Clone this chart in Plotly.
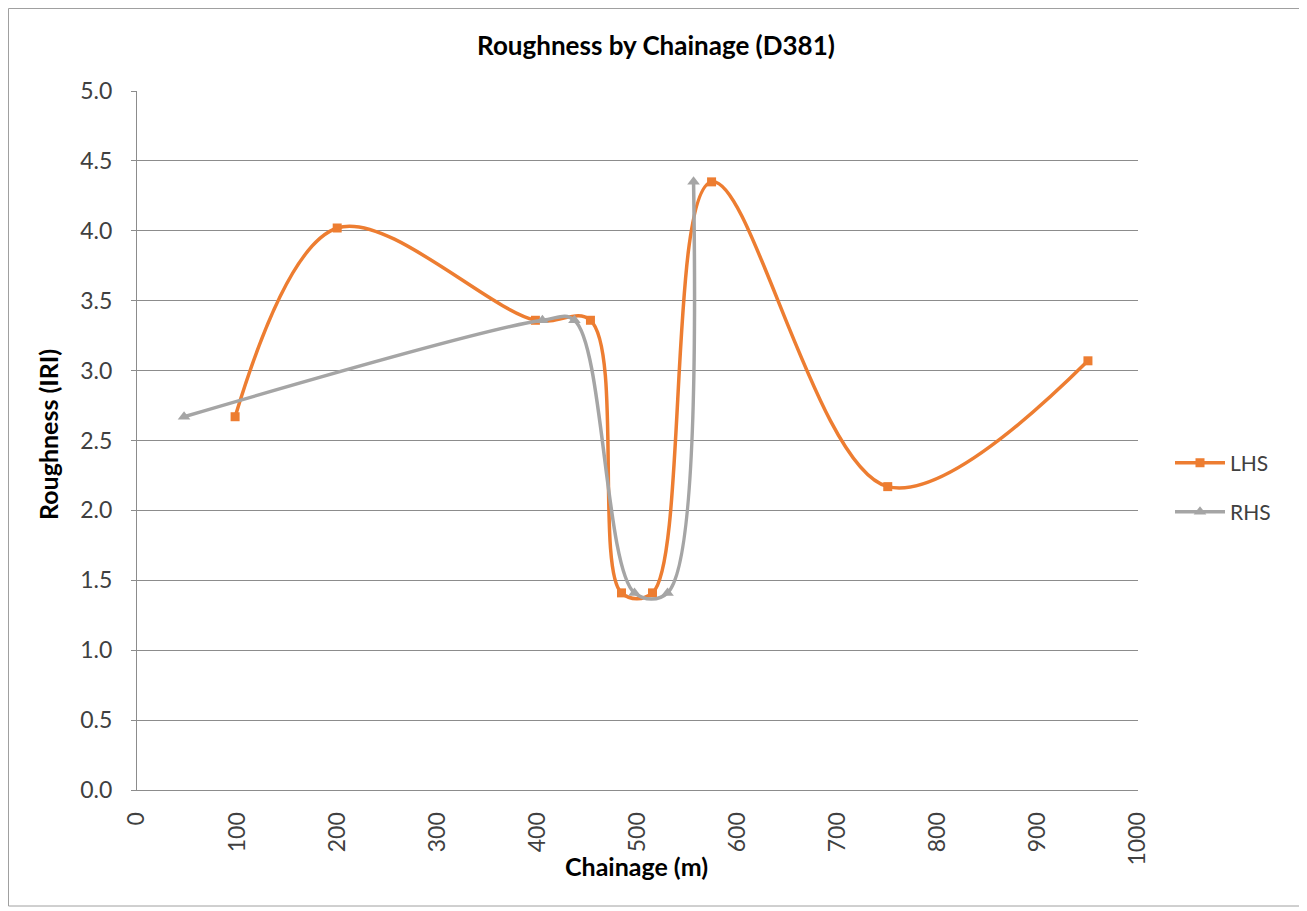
import plotly.graph_objects as go

lhs_x = [98, 200, 398, 453, 484, 515, 574, 750, 950]
lhs_y = [2.67, 4.02, 3.36, 3.36, 1.41, 1.41, 4.35, 2.17, 3.07]
rhs_x = [47, 405, 437, 497, 530, 556]
rhs_y = [2.67, 3.36, 3.36, 1.41, 1.41, 4.35]
x_ticks = [0, 100, 200, 300, 400, 500, 600, 700, 800, 900, 1000]
y_ticks = [0, 0.5, 1, 1.5, 2, 2.5, 3, 3.5, 4, 4.5, 5]

# page has an 8px body margin; figure placed at (8, 8)
OFF = 8
W, H = 1307 - OFF, 911 - OFF
L, T = 137 - OFF, 91 - OFF
R, B = 169, 121
pw, ph = W - L - R, H - T - B


def px(fx):
    return (fx - OFF - L) / pw


def py(fy):
    return 1 - (fy - OFF - T) / ph


fig = go.Figure()
fig.add_trace(go.Scatter(x=lhs_x, y=lhs_y, name="LHS", mode="lines+markers", legend="legend",
                         line=dict(color="#ED7D31", width=3.5, shape="spline", smoothing=1.0),
                         marker=dict(symbol="square", size=9, color="#ED7D31")))
fig.add_trace(go.Scatter(x=rhs_x, y=rhs_y, name="RHS", mode="lines+markers", legend="legend2",
                         line=dict(color="#A5A5A5", width=3.5, shape="spline", smoothing=1.0),
                         marker=dict(symbol="triangle-up", size=11, color="#A5A5A5")))

font = "Lato, 'Open Sans', Arial, sans-serif"
leg = dict(x=px(1170), xanchor="left", yanchor="middle", font=dict(size=21, color="#404040"),
           itemwidth=50, bgcolor="rgba(0,0,0,0)")
fig.update_layout(
    width=W, height=H,
    margin=dict(l=L, r=R, t=T, b=B),
    paper_bgcolor="white", plot_bgcolor="white",
    font=dict(family=font, color="#404040", size=23),
    title=dict(text="<b>Roughness by Chainage (D381)</b>", x=(656 - OFF) / W, xanchor="center",
               y=1 - (46 - OFF) / H, yanchor="middle", font=dict(size=26, color="#000000")),
    showlegend=True,
    legend=dict(leg, y=py(463)),
    legend2=dict(leg, y=py(512)),
    xaxis=dict(range=[0, 1000], tickvals=x_ticks,
               tickangle=-90, showgrid=False, showline=True, linecolor="#8C8C8C", linewidth=1,
               ticks="", zeroline=False, tickfont=dict(size=23, color="#404040"),
               ticklabelstandoff=12),
    yaxis=dict(range=[0, 5], tickvals=y_ticks,
               tickformat=".1f", showgrid=True, gridcolor="#8C8C8C", gridwidth=1,
               showline=True, linecolor="#8C8C8C", linewidth=1, zeroline=False,
               ticks="outside", ticklen=5, tickcolor="#8C8C8C",
               tickfont=dict(size=23, color="#404040"), ticklabelstandoff=14),
    annotations=[
        dict(text="<b>Chainage (m)</b>", xref="paper", yref="paper", x=px(636), y=py(866),
             xanchor="center", yanchor="middle", showarrow=False,
             font=dict(size=25, color="#000000", family=font)),
        dict(text="<b>Roughness (IRI)</b>", xref="paper", yref="paper", x=px(48), y=py(435),
             xanchor="center", yanchor="middle", showarrow=False, textangle=-90,
             font=dict(size=25, color="#000000", family=font)),
    ],
)

fig.add_shape(type="rect", xref="paper", yref="paper",
              x0=(0.5 - L) / pw, x1=(1300 - OFF - L) / pw,
              y0=1 - (906 - OFF - T) / ph, y1=1 - (0.5 - T) / ph,
              line=dict(color="#A0A0A0", width=1), fillcolor="rgba(0,0,0,0)", layer="below")

fig.write_html("out.html")
